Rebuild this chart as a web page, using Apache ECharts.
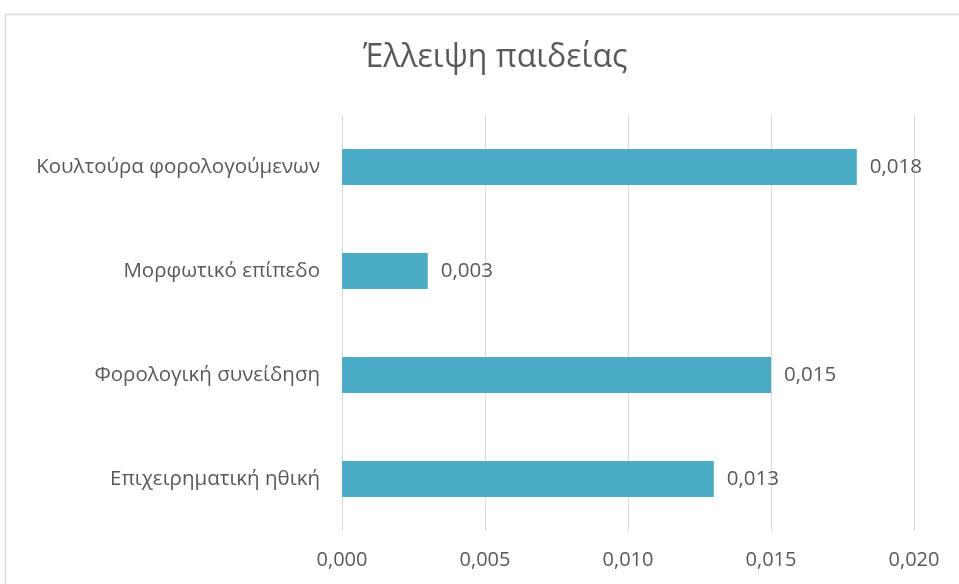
<!DOCTYPE html>
<html>
<head>
<meta charset="utf-8">
<script src="https://cdn.jsdelivr.net/npm/echarts@6/dist/echarts.min.js"></script>
<style>
  html, body { margin: 0; padding: 0; background: #ffffff; }
  #chart { width: 959px; height: 584px; }
</style>
</head>
<body>
<div id="chart"></div>
<script>
// Factors of the "lack of education" dimension and their weights
const titleText = 'Έλλειψη παιδείας';
const categories = [
  'Επιχειρηματική ηθική',
  'Φορολογική συνείδηση',
  'Μορφωτικό επίπεδο',
  'Κουλτούρα φορολογούμενων'
];
const values = [0.013, 0.015, 0.003, 0.018];
const axisMin = 0;
const axisMax = 0.02;
const axisStep = 0.005;

const fmt = v => Number(v).toFixed(3).replace('.', ',');
const textColor = '#595959';
const fontFamily = '"Open Sans", "Noto Sans", sans-serif';

const chart = echarts.init(document.getElementById('chart'), null, { renderer: 'canvas' });
chart.setOption({
  animation: false,
  backgroundColor: '#ffffff',
  title: {
    text: titleText,
    left: 358,
    top: 37,
    textStyle: { color: textColor, fontSize: 32, fontWeight: 'normal', fontFamily }
  },
  graphic: [{
    type: 'rect',
    shape: { x: 5.5, y: 14.5, width: 1000, height: 1000 },
    style: { fill: 'none', stroke: '#d9d9d9', lineWidth: 1.5 },
    silent: true,
    z: -1
  }],
  grid: { left: 342, right: 45, top: 115, bottom: 53, containLabel: false },
  xAxis: {
    type: 'value',
    min: axisMin,
    max: axisMax,
    interval: axisStep,
    axisLine: { show: false },
    axisTick: { show: false },
    splitLine: { show: true, lineStyle: { color: '#d9d9d9', width: 1 } },
    axisLabel: {
      color: textColor, fontSize: 20, fontFamily, margin: 19,
      formatter: v => fmt(v)
    }
  },
  yAxis: {
    type: 'category',
    data: categories,
    axisLine: { show: false },
    axisTick: { show: false },
    axisLabel: { color: textColor, fontSize: 20.5, fontFamily, margin: 22 }
  },
  series: [{
    type: 'bar',
    data: values,
    barWidth: 36,
    itemStyle: { color: '#4bacc6' },
    label: {
      show: true,
      position: 'right',
      distance: 13,
      color: textColor,
      fontSize: 20.5,
      fontFamily,
      formatter: p => fmt(p.value)
    }
  }]
});
</script>
</body>
</html>
